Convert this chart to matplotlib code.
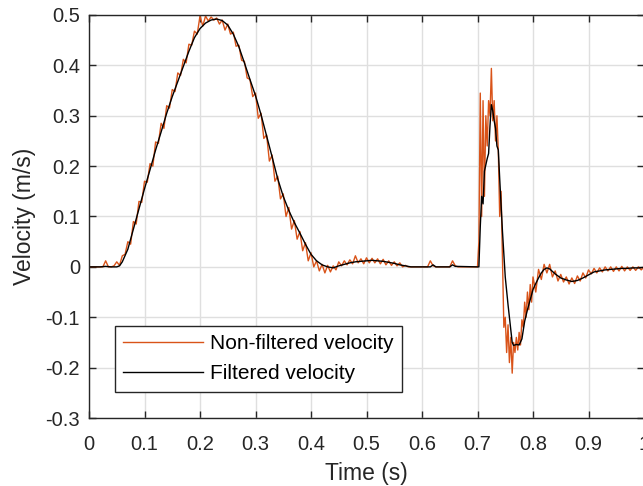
import numpy as np
import matplotlib
matplotlib.use('Agg')
import matplotlib.pyplot as plt

# filtered velocity (black)
t_filt = [0.00, 0.02, 0.03, 0.04, 0.05, 0.055, 0.06, 0.07, 0.08, 0.09,
          0.10, 0.11, 0.12, 0.13, 0.14, 0.15, 0.16, 0.17, 0.18, 0.19,
          0.20, 0.21, 0.22, 0.23, 0.24, 0.25, 0.26, 0.27, 0.28, 0.29,
          0.30, 0.31, 0.32, 0.33, 0.34, 0.35, 0.36, 0.37, 0.38, 0.39,
          0.40, 0.41, 0.42, 0.43, 0.44, 0.45, 0.46, 0.47, 0.48, 0.49,
          0.50, 0.51, 0.52, 0.53, 0.54, 0.55, 0.56, 0.57, 0.58, 0.60,
          0.615, 0.62, 0.625, 0.65, 0.655, 0.66, 0.70, 0.7025, 0.705, 0.7075,
          0.71, 0.7125, 0.7175, 0.72, 0.7225, 0.725, 0.7275, 0.73, 0.7325, 0.735,
          0.7375, 0.74, 0.745, 0.75, 0.755, 0.76, 0.7625, 0.765, 0.77, 0.775,
          0.78, 0.785, 0.79, 0.795, 0.80, 0.805, 0.81, 0.815, 0.82, 0.825,
          0.83, 0.835, 0.84, 0.85, 0.86, 0.87, 0.88, 0.89, 0.90, 0.91,
          0.92, 0.93, 0.94, 0.95, 0.96, 0.97, 0.98, 0.99, 1.00]
v_filt = [0.0, 0.0, 0.001, 0.0, 0.0, 0.002, 0.01, 0.035, 0.075, 0.115,
          0.155, 0.193, 0.232, 0.268, 0.305, 0.338, 0.368, 0.398, 0.428, 0.455,
          0.473, 0.484, 0.490, 0.492, 0.489, 0.480, 0.462, 0.437, 0.405, 0.372,
          0.340, 0.302, 0.260, 0.218, 0.175, 0.140, 0.112, 0.088, 0.067, 0.045,
          0.025, 0.012, 0.004, 0.0, -0.002, 0.002, 0.005, 0.008, 0.010, 0.011,
          0.012, 0.013, 0.012, 0.011, 0.009, 0.007, 0.004, 0.002, 0.0, 0.0,
          0.0, 0.004, 0.0, 0.0, 0.004, 0.001, 0.0, 0.0, 0.08, 0.14,
          0.125, 0.19, 0.215, 0.225, 0.28, 0.322, 0.31, 0.29, 0.275, 0.24,
          0.232, 0.175, 0.07, -0.02, -0.075, -0.125, -0.15, -0.156, -0.154, -0.155,
          -0.143, -0.108, -0.085, -0.065, -0.045, -0.033, -0.022, -0.012, -0.005, -0.002,
          -0.004, -0.009, -0.014, -0.022, -0.026, -0.029, -0.027, -0.022, -0.016, -0.010,
          -0.008, -0.006, -0.005, -0.004, -0.003, -0.003, -0.002, -0.002, -0.001]

# non-filtered velocity (orange), sampled every 5 ms, 2.5 ms during the impact
t_raw = np.concatenate([np.arange(0, 141) * 0.005,
                        0.70 + np.arange(1, 41) * 0.0025,
                        0.80 + np.arange(1, 41) * 0.005])
v_raw = [0.0, 0.0, 0.0, 0.0, 0.0, 0.0, 0.012, 0.0, 0.0, 0.002,
         0.010, 0.003, 0.022, 0.025, 0.050, 0.045, 0.090, 0.085, 0.130, 0.128,
         0.170, 0.168, 0.205, 0.200, 0.248, 0.245, 0.285, 0.275, 0.320, 0.315,
         0.352, 0.348, 0.385, 0.380, 0.412, 0.405, 0.442, 0.440, 0.468, 0.462,
         0.498, 0.478, 0.498, 0.488, 0.496, 0.490, 0.494, 0.482, 0.490, 0.470,
         0.482, 0.462, 0.466, 0.438, 0.440, 0.410, 0.408, 0.375, 0.372, 0.338,
         0.345, 0.295, 0.305, 0.255, 0.262, 0.210, 0.222, 0.170, 0.180, 0.135,
         0.145, 0.100, 0.118, 0.075, 0.092, 0.055, 0.070, 0.032, 0.048, 0.012,
         0.028, 0.000, 0.012, -0.008, 0.005, -0.012, 0.003, -0.010, 0.002, -0.006,
         0.010, 0.002, 0.012, 0.004, 0.014, 0.006, 0.022, 0.008, 0.016, 0.006,
         0.018, 0.008, 0.017, 0.008, 0.016, 0.006, 0.015, 0.004, 0.012, 0.003,
         0.010, 0.002, 0.008, 0.000, 0.003, 0.000, 0.0, 0.0, 0.0, 0.0,
         0.0, 0.0, 0.0, 0.012, 0.002, 0.0, 0.0, 0.0, 0.0, 0.0,
         0.0, 0.012, 0.002, 0.0, 0.0, 0.0, 0.0, 0.0, 0.0, 0.0,
         0.0,
         # 0.7025 .. 0.80
         0.05, 0.345, 0.10, 0.33, 0.14, 0.30, 0.24, 0.33, 0.30, 0.394,
         0.29, 0.33, 0.25, 0.30, 0.23, 0.10, 0.15, 0.02, -0.12, -0.10,
         -0.17, -0.115, -0.19, -0.14, -0.211, -0.15, -0.17, -0.14, -0.165, -0.13,
         -0.155, -0.105, -0.12, -0.07, -0.10, -0.05, -0.085, -0.035, -0.07, -0.02,
         # 0.805 .. 1.0
         -0.05, -0.005, -0.025, 0.005, -0.012, 0.005, -0.020, -0.008, -0.028, -0.015,
         -0.030, -0.020, -0.034, -0.022, -0.033, -0.018, -0.028, -0.012, -0.022, -0.006,
         -0.014, -0.003, -0.012, -0.002, -0.010, 0.000, -0.008, 0.000, -0.009, 0.000,
         -0.008, 0.001, -0.008, 0.000, -0.007, 0.000, -0.007, 0.000, -0.006, 0.000]

x_ticks = [0, 0.1, 0.2, 0.3, 0.4, 0.5, 0.6, 0.7, 0.8, 0.9, 1]
x_labels = ['0', '0.1', '0.2', '0.3', '0.4', '0.5', '0.6', '0.7', '0.8', '0.9', '1']
y_ticks = [-0.3, -0.2, -0.1, 0, 0.1, 0.2, 0.3, 0.4, 0.5]
y_labels = ['-0.3', '-0.2', '-0.1', '0', '0.1', '0.2', '0.3', '0.4', '0.5']

plt.rcParams['font.family'] = ['Liberation Sans', 'DejaVu Sans']
plt.rcParams['axes.unicode_minus'] = False

fig = plt.figure(figsize=(6.43, 4.86), dpi=100)
ax = fig.add_axes([89 / 643, 68 / 486, 555 / 643, 403 / 486])

ax.plot(t_raw, v_raw, color='#D95319', lw=1.0, label='Non-filtered velocity')
ax.plot(t_filt, v_filt, color='black', lw=1.0, label='Filtered velocity')

ax.set_xlim(0, 1)
ax.set_ylim(-0.3, 0.5)
ax.set_xticks(x_ticks)
ax.set_xticklabels(x_labels)
ax.set_yticks(y_ticks)
ax.set_yticklabels(y_labels)
ax.grid(True, color='#dfdfdf', lw=1.0)
ax.set_axisbelow(True)
ax.tick_params(direction='in', length=5, width=1, labelsize=14.5, colors='#262626',
               top=True, right=True)
ax.tick_params(axis='x', pad=12)
ax.tick_params(axis='y', pad=6.5)
for s in ax.spines.values():
    s.set_color('#262626')
    s.set_linewidth(1)

ax.set_xlabel('Time (s)', fontsize=16.5, color='#262626', labelpad=6)
ax.set_ylabel('Velocity (m/s)', fontsize=16.5, color='#262626', labelpad=7)

leg = ax.legend(loc='lower left', bbox_to_anchor=(0.047, 0.065), borderaxespad=0,
                fontsize=15, handlelength=3.8, fancybox=False, framealpha=1,
                edgecolor='#262626', borderpad=0.4, labelspacing=0.55,
                handletextpad=0.35)
leg.get_frame().set_linewidth(1)

fig.savefig('out.png', dpi=100)
